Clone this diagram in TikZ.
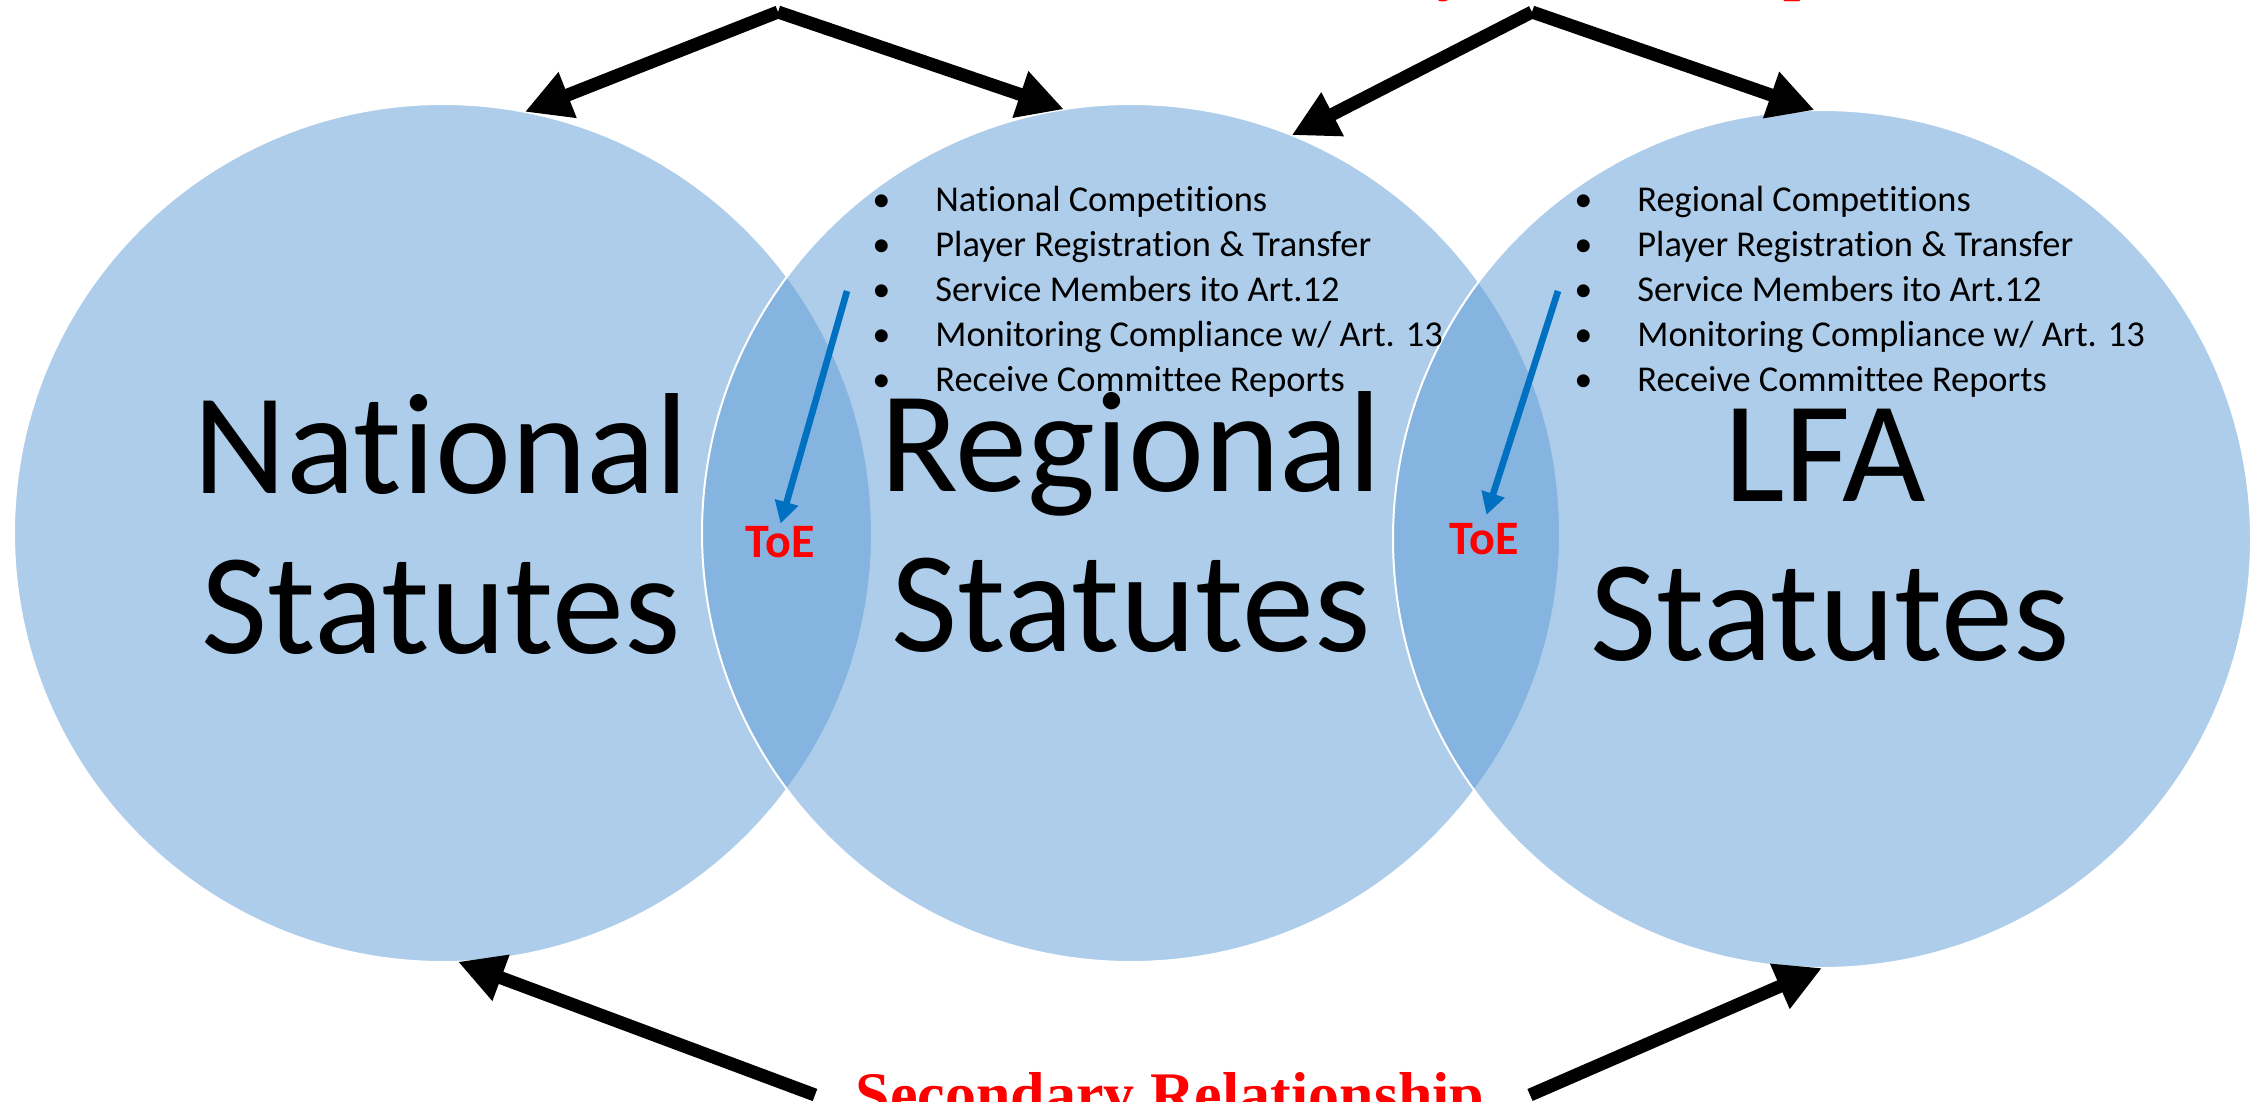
\documentclass[tikz,border=0pt]{standalone}
\usepackage{fontspec}
\setmainfont{Carlito}[Ligatures=NoCommon]
\newfontfamily\redserif{Liberation Serif}
\usetikzlibrary{arrows.meta}
\definecolor{venn}{HTML}{5B9BD5}
\definecolor{toeblue}{HTML}{0070C0}
\definecolor{redtxt}{HTML}{FF0000}
\newcommand\vbul{\makebox[31.5pt][l]{•}}
\begin{document}
\begin{tikzpicture}[x=0.5pt,y=-0.5pt,
  vcirc/.style={circle, draw=white, line width=1pt, fill=venn, fill opacity=0.5, minimum size=429pt, inner sep=0pt, outer sep=0pt},
  bigtxt/.style={font=\fontsize{72}{80}\selectfont, anchor=base, inner sep=0pt},
  bullist/.style={font=\fontsize{18.2}{22.5}\selectfont, anchor=base west, inner sep=0pt},
  toe/.style={font=\fontsize{24}{28}\selectfont\bfseries, text=redtxt, anchor=base, inner sep=0pt},
  reltxt/.style={font=\redserif\bfseries\fontsize{31}{36}\selectfont, text=redtxt, anchor=base, inner sep=0pt},
  bigarrow/.style={draw=black, line width=6.5pt, -{Triangle[length=23pt,width=23pt]}},
  toearrow/.style={draw=toeblue, line width=3.3pt, -{Triangle[length=11pt,width=11.5pt]}}
]
\useasboundingbox (0,0) rectangle (2260,1102);
% circles
\node[vcirc] (nat) at (443,533) {};
\node[vcirc] (reg) at (1131,533) {};
\node[vcirc] (lfa) at (1822,539) {};
% big labels
\node[bigtxt] (natA) at (441,493) {National};
\node[bigtxt] (natB) at (441,653) {Statutes};
\node[bigtxt] (regA) at (1131,491) {Regional};
\node[bigtxt] (regB) at (1131,651) {Statutes};
\node[bigtxt] (lfaA) at (1825,501) {LFA};
\node[bigtxt] (lfaB) at (1830,660) {Statutes};
% bullet lists
\node[bullist] (reglist) at (872,212) {\begin{tabular}[t]{@{}l@{}}
\vbul National Competitions\\
\vbul Player Registration \& Transfer\\
\vbul Service Members ito Art.12\\
\vbul Monitoring Compliance w/ Art. 13\\
\vbul Receive Committee Reports
\end{tabular}};
\node[bullist] (lfalist) at (1574,212) {\begin{tabular}[t]{@{}l@{}}
\vbul Regional Competitions\\
\vbul Player Registration \& Transfer\\
\vbul Service Members ito Art.12\\
\vbul Monitoring Compliance w/ Art. 13\\
\vbul Receive Committee Reports
\end{tabular}};
% ToE
\node[toe] (toeA) at (780,557) {ToE};
\node[toe] (toeB) at (1484,554) {ToE};
\coordinate (tA) at (847,291);
\coordinate (tB) at (1558,291);
\draw[toearrow, shorten >=1pt] (tA) -- (toeA.north);
\draw[toearrow, shorten >=4pt] (tB) -- (toeB.north);
% relationship labels
\node[reltxt] (prim) at (1531,-11) {Primary Relationship};
\node[reltxt] (sec) at (1170,1115) {Secondary Relationship};
% relationship arrows
\coordinate (apA) at (778,12);
\coordinate (apB) at (1532,12);
\coordinate (sL) at (815,1095);
\coordinate (sR) at (1530,1095);
\draw[bigarrow] (apA) -- (nat.79);
\draw[bigarrow] (apA) -- (reg.99);
\draw[bigarrow] (apB) -- (reg.68);
\draw[bigarrow] (apB) -- (lfa.91);
\draw[bigarrow] (sL) -- (nat.272);
\draw[bigarrow] (sR) -- (lfa.270);
\end{tikzpicture}
\end{document}
